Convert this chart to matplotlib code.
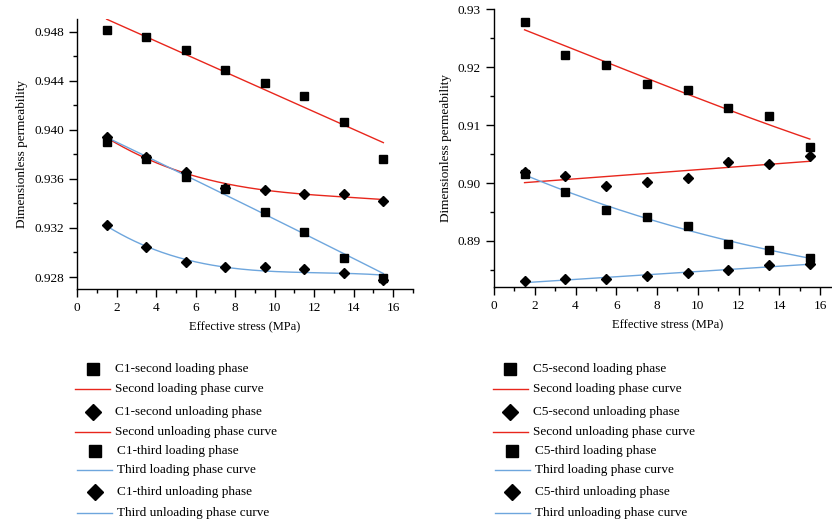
import numpy as np
import matplotlib
matplotlib.use("Agg")
import matplotlib.pyplot as plt
from matplotlib.lines import Line2D
from matplotlib.ticker import MultipleLocator, FormatStrFormatter

plt.rcParams["font.family"] = ["Liberation Serif", "DejaVu Serif"]
plt.rcParams["font.size"] = 9

# Effective stress (MPa)
stress = [1.5, 3.5, 5.5, 7.5, 9.5, 11.5, 13.5, 15.5]

# Sample C1: measured dimensionless permeability
c1_load2 = [0.94813, 0.94759, 0.94650, 0.94490, 0.94384, 0.94275, 0.94064, 0.93759]
c1_unload2 = [0.93944, 0.93776, 0.93653, 0.93528, 0.93507, 0.93474, 0.93474, 0.93420]
c1_load3 = [0.93903, 0.93759, 0.93618, 0.93515, 0.93330, 0.93169, 0.92957, 0.92794]
c1_unload3 = [0.93224, 0.93042, 0.92920, 0.92882, 0.92884, 0.92865, 0.92830, 0.92776]
# Sample C1: fitted curve values
c1_load2_fit = [0.94901, 0.94757, 0.94614, 0.94470, 0.94326, 0.94183, 0.94039, 0.93895]
c1_unload2_fit = [0.93939, 0.93759, 0.93648, 0.93564, 0.93509, 0.93474, 0.93450, 0.93433]
c1_load3_fit = [0.93939, 0.93782, 0.93626, 0.93470, 0.93315, 0.93150, 0.92988, 0.92830]
c1_unload3_fit = [0.93218, 0.93047, 0.92939, 0.92884, 0.92855, 0.92835, 0.92824, 0.92819]

# Sample C5: measured dimensionless permeability
c5_load2 = [0.92777, 0.92212, 0.92034, 0.91717, 0.91608, 0.91292, 0.91154, 0.90618]
c5_unload2 = [0.90197, 0.90128, 0.89945, 0.90019, 0.90083, 0.90370, 0.90335, 0.90473]
c5_load3 = [0.90162, 0.89841, 0.89541, 0.89420, 0.89264, 0.88953, 0.88845, 0.88701]
c5_unload3 = [0.88314, 0.88344, 0.88349, 0.88390, 0.88442, 0.88494, 0.88585, 0.88603]
# Sample C5: fitted curve values
c5_load2_fit = [0.92644, 0.92368, 0.92097, 0.91798, 0.91534, 0.91263, 0.91015, 0.90756]
c5_unload2_fit = [0.90007, 0.90060, 0.90112, 0.90165, 0.90218, 0.90271, 0.90323, 0.90376]
c5_load3_fit = [0.90140, 0.89869, 0.89610, 0.89385, 0.89190, 0.89005, 0.88845, 0.88701]
c5_unload3_fit = [0.88280, 0.88325, 0.88371, 0.88416, 0.88462, 0.88507, 0.88553, 0.88598]

c1_labels = ["C1-second loading phase", "Second loading phase curve",
             "C1-second unloading phase", "Second unloading phase curve",
             "C1-third loading phase", "Third loading phase curve",
             "C1-third unloading phase", "Third unloading phase curve"]
c5_labels = ["C5-second loading phase", "Second loading phase curve",
             "C5-second unloading phase", "Second unloading phase curve",
             "C5-third loading phase", "Third loading phase curve",
             "C5-third unloading phase", "Third unloading phase curve"]

RED = "#e8261c"
BLUE = "#6ea6dd"
W, H = 832, 525

fig = plt.figure(figsize=(W / 100, H / 100), dpi=100)


def smooth(ax, x, y, color):
    x = np.asarray(x)
    coef = np.polyfit(x, y, 3)
    xs = np.linspace(x.min(), x.max(), 200)
    ax.plot(xs, np.polyval(coef, xs), color=color, lw=1.0, zorder=2)


def panel(rect, data, fits, ylim, ymajor, fmt):
    ax = fig.add_axes(rect)
    colors = [RED, RED, BLUE, BLUE]
    markers = ["s", "D", "s", "D"]
    sizes = [5.5, 5.0, 5.5, 5.0]
    for f, c in zip(fits, colors):
        smooth(ax, stress, f, c)
    for d, m, s in zip(data, markers, sizes):
        ax.plot(stress, d, linestyle="none", marker=m, ms=s, color="black", zorder=3)
    ax.set_xlim(0, 17)
    ax.set_ylim(*ylim)
    ax.xaxis.set_major_locator(MultipleLocator(2))
    ax.xaxis.set_minor_locator(MultipleLocator(1))
    ax.yaxis.set_major_locator(MultipleLocator(ymajor))
    ax.yaxis.set_minor_locator(MultipleLocator(ymajor / 2))
    ax.yaxis.set_major_formatter(FormatStrFormatter(fmt))
    ax.xaxis.set_major_formatter(FormatStrFormatter("%d"))
    for s in ("top", "right"):
        ax.spines[s].set_visible(False)
    for s in ("left", "bottom"):
        ax.spines[s].set_linewidth(1.0)
    ax.tick_params(which="major", direction="out", length=6, width=1.0, labelsize=9.5)
    ax.tick_params(which="minor", direction="out", length=3, width=1.0)
    ax.set_xlabel("Effective stress (MPa)", fontsize=9, labelpad=5)
    ax.set_ylabel("Dimensionless permeability", fontsize=9.5, labelpad=4)
    return ax


panel([77 / W, 1 - 289.3 / H, 336 / W, 270 / H],
      [c1_load2, c1_unload2, c1_load3, c1_unload3],
      [c1_load2_fit, c1_unload2_fit, c1_load3_fit, c1_unload3_fit],
      (0.927, 0.949), 0.004, "%.3f")
panel([494 / W, 1 - 287.3 / H, 346.4 / W, 278 / H],
      [c5_load2, c5_unload2, c5_load3, c5_unload3],
      [c5_load2_fit, c5_unload2_fit, c5_load3_fit, c5_unload3_fit],
      (0.882, 0.930), 0.01, "%.2f")

# hand-placed legend blocks under each panel
rows_y = [369, 389, 411.7, 431.7, 450.7, 470, 491.7, 513.3]
kinds = ["s", RED, "D", RED, "s", BLUE, "D", BLUE]


def legend_block(x_mark, x_line, x_text, labels):
    for i, (y, k, lab) in enumerate(zip(rows_y, kinds, labels)):
        fy = 1 - y / H
        shift = 2 if i >= 4 else 0
        if k in ("s", "D"):
            ms = 8 if k == "s" else 8.5
            fig.add_artist(Line2D([(x_mark + shift) / W], [fy], marker=k, ms=ms,
                                  color="black", linestyle="none",
                                  transform=fig.transFigure))
        else:
            fig.add_artist(Line2D([(x_line[0] + shift) / W, (x_line[1] + shift) / W],
                                  [fy, fy], color=k, lw=1.0,
                                  transform=fig.transFigure))
        fig.text((x_text + shift) / W, fy, lab, fontsize=9.5, va="center", ha="left")


legend_block(92.5, (75, 110), 115, c1_labels)
legend_block(510, (492.7, 527.7), 532.7, c5_labels)

fig.savefig("out.png", dpi=100)
